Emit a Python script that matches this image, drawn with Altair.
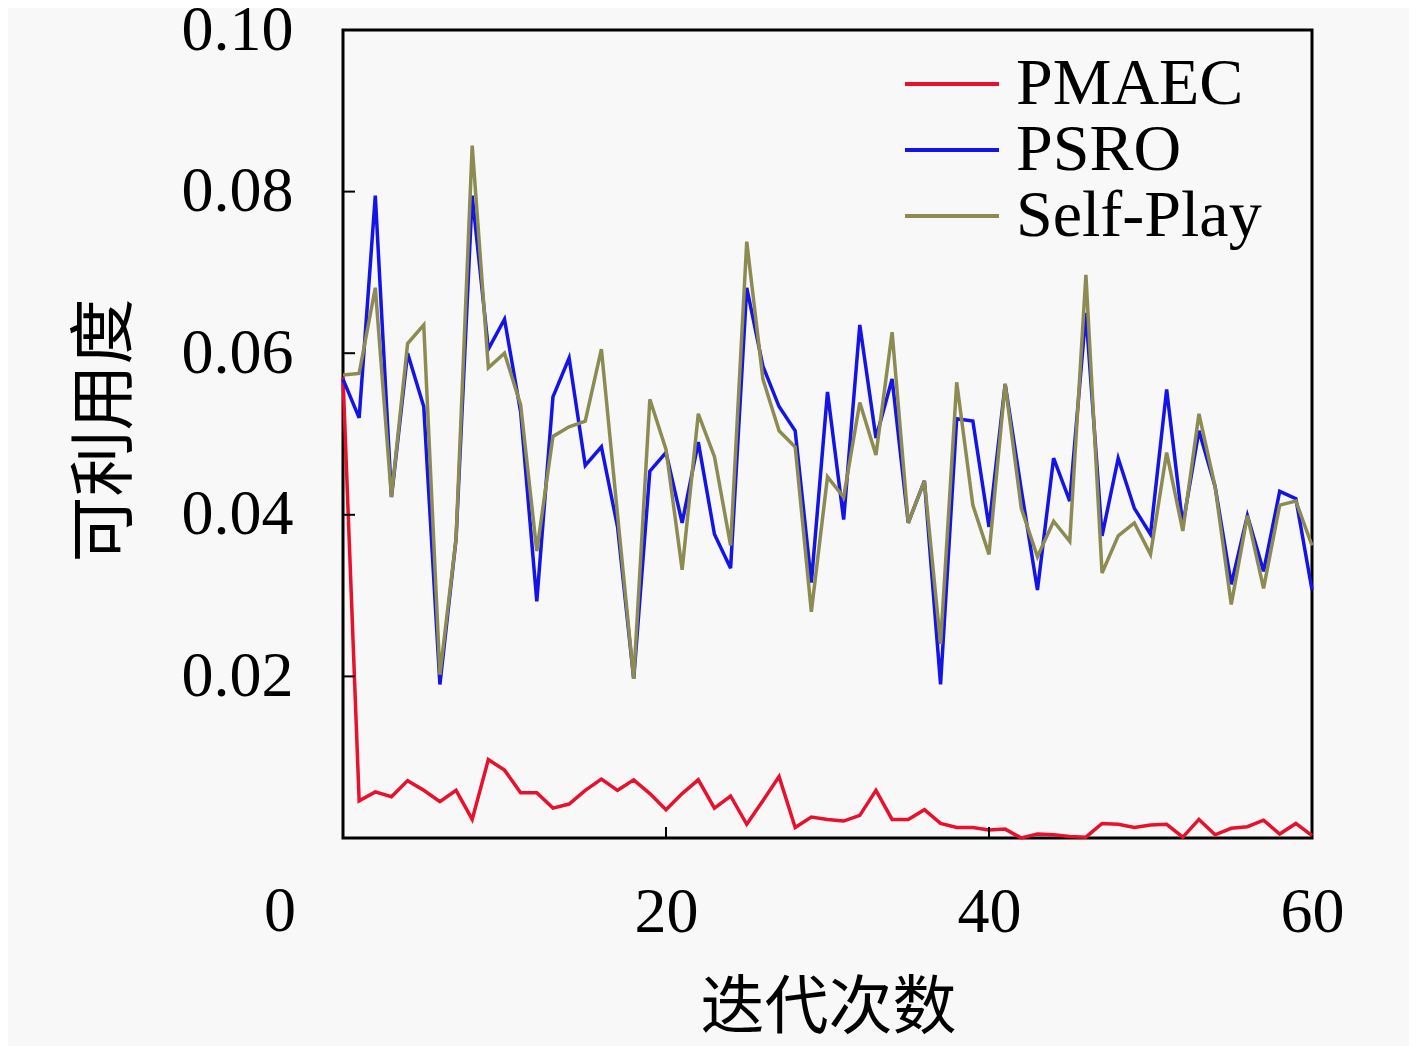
import altair as alt
import pandas as pd

iterations = list(range(0, 61))

pmaec = [0.0570, 0.0046, 0.0057, 0.0051, 0.0071, 0.0059, 0.0045, 0.0059, 0.0023, 0.0097,
         0.0084, 0.0056, 0.0056, 0.0037, 0.0042, 0.0059, 0.0073, 0.0059, 0.0072, 0.0055,
         0.0035, 0.0055, 0.0072, 0.0037, 0.0052, 0.0017, 0.0046, 0.0076, 0.0013, 0.0026,
         0.0023, 0.0021, 0.0028, 0.0059, 0.0023, 0.0023, 0.0035, 0.0018, 0.0013, 0.0013,
         0.0010, 0.0011, 0.0000, 0.0005, 0.0004, 0.0002, 0.0001, 0.0018, 0.0017, 0.0013,
         0.0016, 0.0017, 0.0001, 0.0023, 0.0004, 0.0012, 0.0014, 0.0022, 0.0005, 0.0018,
         0.0003]

psro = [0.0568, 0.0520, 0.0795, 0.0422, 0.0600, 0.0534, 0.0190, 0.0370, 0.0795, 0.0605,
        0.0642, 0.0527, 0.0293, 0.0546, 0.0594, 0.0461, 0.0484, 0.0385, 0.0197, 0.0454,
        0.0477, 0.0390, 0.0490, 0.0376, 0.0334, 0.0681, 0.0584, 0.0534, 0.0504, 0.0316,
        0.0552, 0.0394, 0.0635, 0.0495, 0.0568, 0.0390, 0.0442, 0.0190, 0.0519, 0.0516,
        0.0385, 0.0562, 0.0431, 0.0307, 0.0470, 0.0417, 0.0650, 0.0374, 0.0470, 0.0408,
        0.0376, 0.0555, 0.0387, 0.0504, 0.0435, 0.0314, 0.0399, 0.0330, 0.0429, 0.0420,
        0.0307]

selfplay = [0.0573, 0.0575, 0.0681, 0.0422, 0.0612, 0.0635, 0.0202, 0.0370, 0.0857, 0.0582,
            0.0600, 0.0536, 0.0355, 0.0497, 0.0509, 0.0516, 0.0605, 0.0400, 0.0197, 0.0543,
            0.0481, 0.0332, 0.0525, 0.0472, 0.0362, 0.0738, 0.0568, 0.0504, 0.0484, 0.0280,
            0.0447, 0.0422, 0.0539, 0.0474, 0.0626, 0.0390, 0.0442, 0.0240, 0.0564, 0.0412,
            0.0351, 0.0562, 0.0408, 0.0348, 0.0392, 0.0367, 0.0697, 0.0328, 0.0374, 0.0390,
            0.0351, 0.0477, 0.0380, 0.0525, 0.0435, 0.0289, 0.0399, 0.0309, 0.0412, 0.0417,
            0.0362]

series_names = ["PMAEC", "PSRO", "Self-Play"]
series_colors = ["#e8102c", "#1414e6", "#8c8b52"]

x_tick_values = [20, 40, 60]
x_inner_ticks = [20, 40]
y_tick_values = [0.02, 0.04, 0.06, 0.08, 0.10]
y_inner_ticks = [0.02, 0.04, 0.06, 0.08]

rows = []
for name, vals in zip(series_names, [pmaec, psro, selfplay]):
    for it, v in zip(iterations, vals):
        rows.append({"iter": it, "value": v, "series": name})
df = pd.DataFrame(rows)

LATIN = "Liberation Serif"
CJK = "Noto Sans CJK SC"

x_scale = alt.Scale(domain=[0, 60], nice=False, zero=False)
y_scale = alt.Scale(domain=[0, 0.10], nice=False)

x_axis = alt.Axis(values=x_tick_values, labelFont=LATIN, labelFontSize=64, labelColor="black",
                  ticks=False, domain=False, grid=False, labelPadding=74, labelBaseline="middle",
                  labelFlush=False, labelOverlap=False,
                  title="迭代次数", titleFont=CJK, titleFontSize=64, titleFontWeight="normal",
                  titleColor="black", titleX=485, titleY=170, titleBaseline="middle",
                  titleAlign="center")
y_axis = alt.Axis(values=y_tick_values, format=".2f", labelFont=LATIN, labelFontSize=64,
                  labelColor="black", ticks=False, domain=False, grid=False, labelPadding=50,
                  labelAlign="right", labelBaseline="middle", labelFlush=False, labelOverlap=False,
                  title="可利用度", titleFont=CJK, titleFontSize=66, titleFontWeight="normal",
                  titleColor="black", titleAngle=270, titleX=-238, titleY=400,
                  titleAlign="center", titleBaseline="middle")

lines = alt.Chart(df).mark_line(strokeWidth=3.5).encode(
    x=alt.X("iter:Q", scale=x_scale, axis=x_axis),
    y=alt.Y("value:Q", scale=y_scale, axis=y_axis),
    color=alt.Color("series:N",
                    scale=alt.Scale(domain=series_names, range=series_colors),
                    sort=series_names,
                    legend=alt.Legend(orient="none", legendX=560, legendY=21, title=None,
                                      symbolType="stroke", symbolSize=8836,
                                      symbolStrokeWidth=4, labelFont=LATIN, labelFontSize=66,
                                      labelColor="black", labelOffset=15, rowPadding=0,
                                      clipHeight=66, padding=0, labelLimit=400)),
)

yt = alt.Chart(pd.DataFrame({"value": y_inner_ticks})).mark_rule(
    color="black", strokeWidth=2).encode(
    y=alt.Y("value:Q", scale=y_scale), x=alt.value(0), x2=alt.value(12))

xt = alt.Chart(pd.DataFrame({"iter": x_inner_ticks})).mark_rule(
    color="black", strokeWidth=2).encode(
    x=alt.X("iter:Q", scale=x_scale), y=alt.value(808), y2=alt.value(797))

zero = alt.Chart(pd.DataFrame({"iter": [0], "value": [0.0], "lab": ["0"]})).mark_text(
    font=LATIN, fontSize=64, color="black", dx=-63, dy=74, baseline="middle", align="center"
).encode(x=alt.X("iter:Q", scale=x_scale), y=alt.Y("value:Q", scale=y_scale), text="lab:N")

chart = alt.layer(lines, yt, xt, zero).properties(
    width=969, height=808,
    background="#f8f8f8",
    padding={"left": 335, "top": 22, "right": 97, "bottom": 208},
    autosize=alt.AutoSizeParams(type="none"),
).configure_view(stroke="black", strokeWidth=3, fill="#f8f8f8")

chart.save("out.html", embed_options={"renderer": "svg", "actions": False})
